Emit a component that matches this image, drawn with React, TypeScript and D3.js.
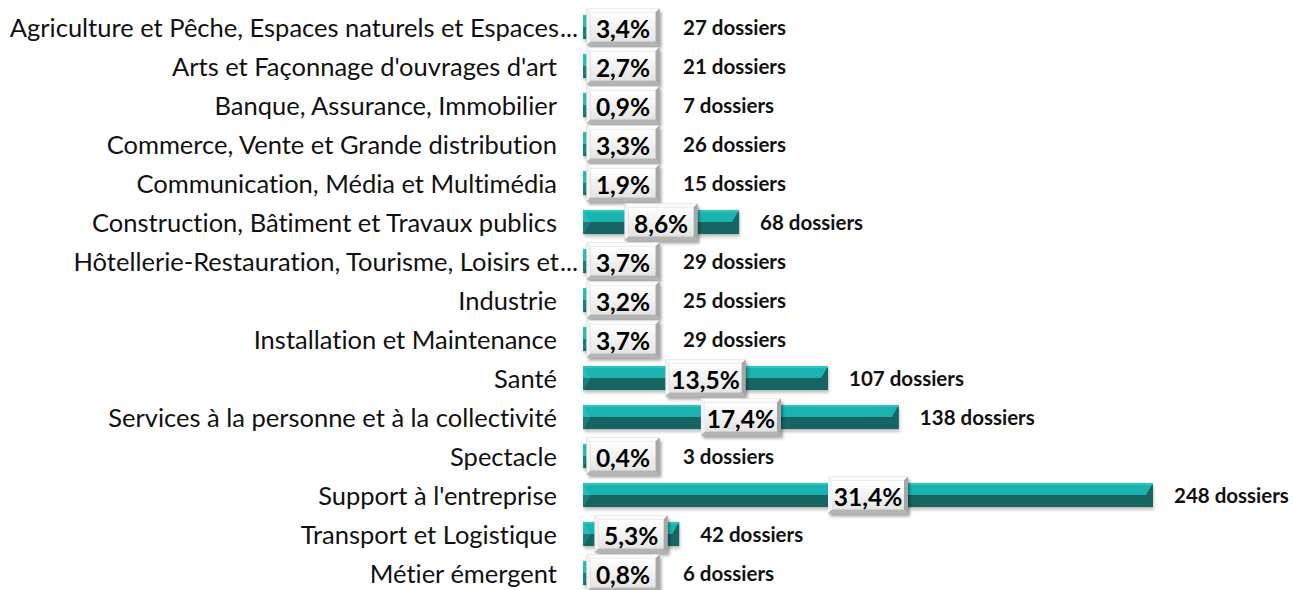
import React from "react";
import * as d3 from "d3";

const categories: string[] = [
  "Agriculture et Pêche, Espaces naturels et Espaces",
  "Arts et Façonnage d'ouvrages d'art",
  "Banque, Assurance, Immobilier",
  "Commerce, Vente et Grande distribution",
  "Communication, Média et Multimédia",
  "Construction, Bâtiment et Travaux publics",
  "Hôtellerie-Restauration, Tourisme, Loisirs et",
  "Industrie",
  "Installation et Maintenance",
  "Santé",
  "Services à la personne et à la collectivité",
  "Spectacle",
  "Support à l'entreprise",
  "Transport et Logistique",
  "Métier émergent",
];
const truncated: boolean[] = [true, false, false, false, false, false, true, false, false, false, false, false, false, false, false];
const percents: number[] = [3.4, 2.7, 0.9, 3.3, 1.9, 8.6, 3.7, 3.2, 3.7, 13.5, 17.4, 0.4, 31.4, 5.3, 0.8];
const dossiers: number[] = [27, 21, 7, 26, 15, 68, 29, 25, 29, 107, 138, 3, 248, 42, 6];

const W = 1293;
const H = 590;
const FONT = "Lato, 'Open Sans', sans-serif";

export default function App() {
  const x = d3.scaleLinear().domain([0, 31.4]).range([583, 1153]);
  const y = d3
    .scaleBand<string>()
    .domain(categories)
    .range([7.5, 592.5])
    .paddingInner(0.38)
    .paddingOuter(0.19);
  const bh = y.bandwidth();
  const fmt = (v: number) => v.toFixed(1).replace(".", ",") + "%";

  return (
    <svg
      width={W}
      height={H}
      style={{ position: "absolute", left: 0, top: 0, background: "#fff", fontVariantLigatures: "none" }}
      fontFamily={FONT}
    >
      <defs>
        <linearGradient id="boxg" x1="0" y1="0" x2="0" y2="1">
          <stop offset="0" stopColor="#ffffff" />
          <stop offset="1" stopColor="#e4e4e4" />
        </linearGradient>
        <filter id="sh" x="-20%" y="-20%" width="150%" height="160%">
          <feGaussianBlur stdDeviation="1.6" />
        </filter>
      </defs>
      {/* category labels */}
      {categories.map((c, i) => {
        const cy = (y(c) as number) + bh / 2;
        return (
          <g key={"l" + i}>
            <text
              x={truncated[i] ? 559 : 557}
              y={cy}
              textAnchor="end"
              dominantBaseline="central"
              fontSize={25.5}
              fill="#111"
            >
              {c}
            </text>
            {truncated[i] && (
              <text x={560} y={cy} dominantBaseline="central" fontSize={25.5} fill="#111">
                ...
              </text>
            )}
          </g>
        );
      })}
      {/* bars */}
      {categories.map((c, i) => {
        const x0 = x(0);
        const x1 = x(percents[i]);
        const y0 = y(c) as number;
        const y1 = y0 + bh;
        const ym = (y0 + y1) / 2;
        const w = x1 - x0;
        const b = Math.min(7, w / 2);
        return (
          <g key={"b" + i}>
            <rect x={x0 + 1} y={y0 + 3} width={w} height={bh} fill="rgba(0,0,0,0.22)" filter="url(#sh)" />
            <rect x={x0} y={y0} width={w} height={bh} fill="#176563" />
            <polygon
              points={`${x0},${y0} ${x1},${y0} ${x1 - b},${ym} ${x0},${ym}`}
              fill="#1bb3b0"
            />
            <polygon points={`${x0},${y0} ${x1},${y0} ${x1},${y0 + 2} ${x0},${y0 + 2}`} fill="#2cc4c1" />
            <polygon points={`${x0},${y0} ${x0 + b},${ym} ${x0},${y1}`} fill="#27bcb9" />
            <polygon points={`${x0},${ym} ${x0 + b},${ym} ${x0},${y1}`} fill="#1a7f7c" />
          </g>
        );
      })}
      {/* value boxes */}
      {categories.map((c, i) => {
        const x0 = x(0);
        const x1 = x(percents[i]);
        const cy = (y(c) as number) + bh / 2;
        const label = fmt(percents[i]);
        const bw = 45 + 7 * label.length;
        const bhh = 37;
        const cx = Math.max((x0 + x1) / 2, x0 + 40);
        const bx = cx - bw / 2;
        const by = cy - bhh / 2;
        const e = 4;
        return (
          <g key={"v" + i}>
            <rect x={bx + 2} y={by + 3} width={bw} height={bhh} fill="rgba(0,0,0,0.35)" filter="url(#sh)" />
            <rect x={bx} y={by} width={bw} height={bhh} fill="#bcbcbc" />
            <polygon points={`${bx},${by} ${bx + bw},${by} ${bx + bw - e},${by + e} ${bx + e},${by + e}`} fill="#fbfbfb" />
            <polygon points={`${bx},${by} ${bx + e},${by + e} ${bx + e},${by + bhh - e} ${bx},${by + bhh}`} fill="#f2f2f2" />
            <polygon
              points={`${bx + bw},${by} ${bx + bw},${by + bhh} ${bx + bw - e},${by + bhh - e} ${bx + bw - e},${by + e}`}
              fill="#a6a6a6"
            />
            <polygon
              points={`${bx},${by + bhh} ${bx + bw},${by + bhh} ${bx + bw - e},${by + bhh - e} ${bx + e},${by + bhh - e}`}
              fill="#b4b4b4"
            />
            <rect x={bx + e} y={by + e} width={bw - 2 * e} height={bhh - 2 * e} fill="url(#boxg)" />
            <text
              x={cx}
              y={cy + 1}
              textAnchor="middle"
              dominantBaseline="central"
              fontSize={24.5}
              fontWeight="bold"
              fill="#000"
            >
              {label}
            </text>
          </g>
        );
      })}
      {/* dossier labels */}
      {categories.map((c, i) => {
        const cy = (y(c) as number) + bh / 2;
        const lx = Math.max(x(percents[i]) + 21, 683);
        return (
          <text
            key={"d" + i}
            x={lx}
            y={cy}
            dominantBaseline="central"
            fontSize={20.5}
            fontWeight="bold"
            fill="#111"
          >
            {dossiers[i]} dossiers
          </text>
        );
      })}
    </svg>
  );
}
